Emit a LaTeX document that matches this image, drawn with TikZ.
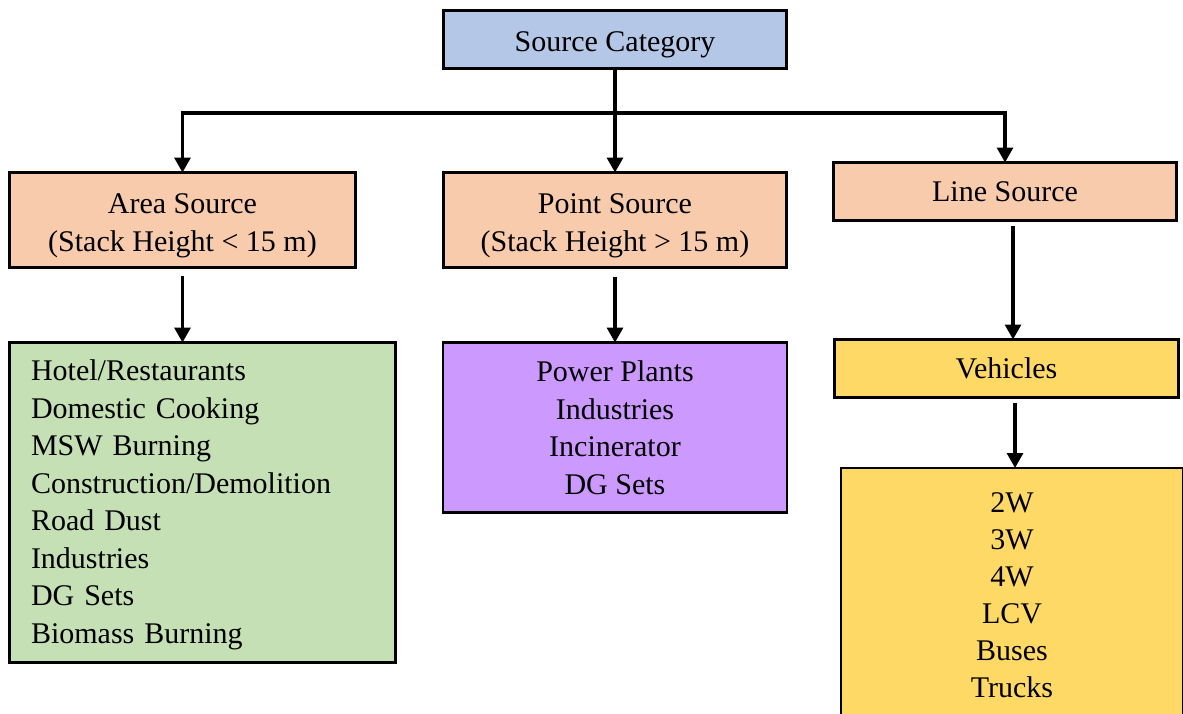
\documentclass[tikz,border=0pt]{standalone}
\usepackage{fontspec}
\setmainfont{Liberation Serif}
\usetikzlibrary{arrows.meta}
\definecolor{blueC}{HTML}{B4C7E7}
\definecolor{peachC}{HTML}{F8CBAD}
\definecolor{greenC}{HTML}{C5E0B4}
\definecolor{purpleC}{HTML}{CC99FF}
\definecolor{yellowC}{HTML}{FFD966}
\begin{document}
\begin{tikzpicture}[x=1pt,y=-1pt,
  box/.style={draw=black, line width=2.3pt, inner sep=0pt, outer sep=0pt,
    font=\fontsize{30}{37.5}\selectfont, align=center},
  arr/.style={line width=3.2pt, -{Triangle[width=16pt,length=15pt]}},
  plain/.style={line width=3.2pt}]
\useasboundingbox (0,0) rectangle (1183,713);
\clip (0,0) rectangle (1183,713);
\fill[white] (0,0) rectangle (1183,713);
% boxes
\node[box, fill=blueC, minimum width=343, minimum height=58] (sc) at (615,39.5) {\rule{0pt}{30pt}Source Category};
\node[box, fill=peachC, minimum width=346, minimum height=95,
  font=\fontsize{30}{38.5}\selectfont] (area) at (182.5,220) {\rule{0pt}{31pt}Area Source\\(Stack Height < 15 m)};
\node[box, fill=peachC, minimum width=343, minimum height=95,
  font=\fontsize{30}{38.5}\selectfont] (point) at (615,220) {\rule{0pt}{31pt}Point Source\\(Stack Height > 15 m)};
\node[box, fill=peachC, minimum width=343, minimum height=58] (line) at (1005,191.5) {Line Source};
\node[box, fill=greenC, minimum width=386, minimum height=320, text width=343, align=left] (green) at (202.5,502.5)
  {\rule{0pt}{25pt}Hotel/Restaurants\\Domestic Cooking\\MSW Burning\\Construction/Demolition\\Road Dust\\Industries\\DG Sets\\Biomass Burning};
\node[box, fill=purpleC, minimum width=344, minimum height=170] (purple) at (615,427.5)
  {Power Plants\\Industries\\Incinerator\\DG Sets};
\node[box, fill=yellowC, minimum width=344, minimum height=58] (veh) at (1006.5,368.5) {Vehicles};
\node[box, fill=yellowC, minimum width=342, minimum height=249, font=\fontsize{30}{37}\selectfont] (types) at (1012,592.5)
  {\rule{0pt}{25pt}2W\\3W\\4W\\LCV\\Buses\\Trucks};
% connectors
\coordinate (j) at (615,113);
\draw[plain] (sc.south) -- (j);
\draw[plain] ([xshift=-1.6pt]j -| area.north) -- ([xshift=1.6pt]j -| line.north);
\draw[arr] (j -| area.north) -- (area.north);
\draw[arr] (j) -- (point.north);
\draw[arr] (j -| line.north) -- (line.north);
\draw[arr] ([yshift=-8pt]area.south) -- (area.south |- green.north);
\draw[arr] ([yshift=-9pt]point.south) -- (point.south |- purple.north);
\draw[arr] ([xshift=8pt,yshift=-5pt]line.south) -- ([xshift=8pt]line.south |- veh.north);
\draw[arr] ([xshift=8.5pt,yshift=-5pt]veh.south) -- ([xshift=8.5pt]veh.south |- types.north);
\end{tikzpicture}
\end{document}
